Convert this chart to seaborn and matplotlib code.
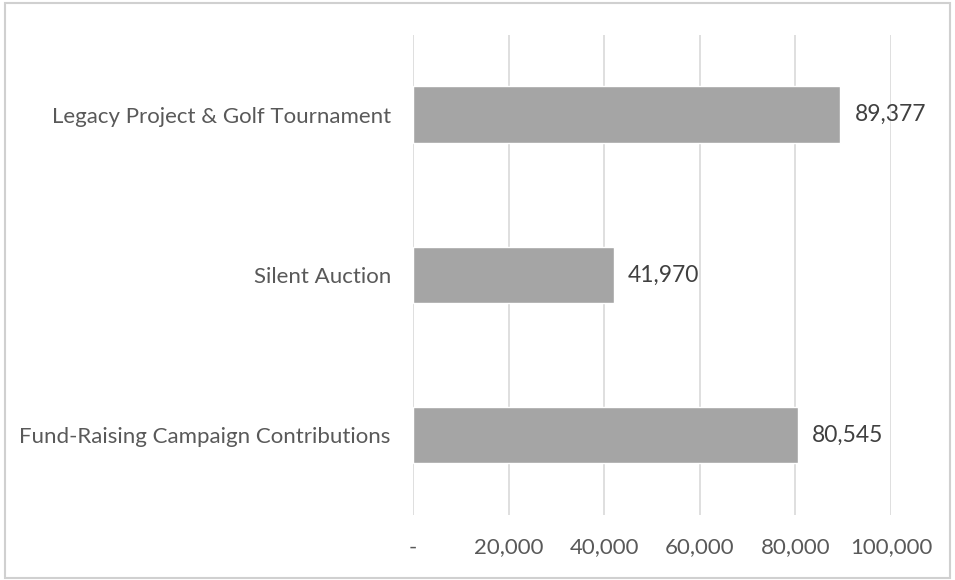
import matplotlib
matplotlib.use('Agg')
import matplotlib.pyplot as plt
import seaborn as sns
import pandas as pd
from matplotlib.patches import Rectangle

categories = ['Legacy Project & Golf Tournament', 'Silent Auction', 'Fund-Raising Campaign Contributions']
values = [89377, 41970, 80545]
xticks = [0, 20000, 40000, 60000, 80000, 100000]
xtick_labels = ['-', '20,000', '40,000', '60,000', '80,000', '100,000']

sns.set_style('white')
plt.rcParams['font.family'] = ['Lato', 'DejaVu Sans']

df = pd.DataFrame({'category': categories, 'value': values})

fig = plt.figure(figsize=(9.55, 5.8), dpi=100)
ax = fig.add_axes([0.4325, 0.112, 0.5005, 0.828])

sns.barplot(data=df, x='value', y='category', color='#a5a5a5', width=0.355,
            saturation=1, ax=ax, zorder=3)

ax.set_xlim(0, 100000)
ax.set_ylim(2.5, -0.5)
ax.set_xticks(xticks)
ax.set_xticklabels(xtick_labels)
ax.grid(axis='x', color='#d9d9d9', linewidth=1.2, zorder=0)
ax.grid(axis='y', visible=False)
for s in ax.spines.values():
    s.set_visible(False)
ax.tick_params(axis='both', length=0, colors='#595959', labelsize=16)
ax.tick_params(axis='x', pad=16)
ax.tick_params(axis='y', pad=16)
ax.set_xlabel('')
ax.set_ylabel('')

for i, v in enumerate(values):
    ax.text(v + 3000, i, f'{v:,}', va='center', ha='left', fontsize=16.5, color='#404040')

fig.patches.append(Rectangle((0.005, 0.004), 0.99, 0.99, transform=fig.transFigure,
                             fill=False, edgecolor='#d0d0d0', linewidth=1.5))

fig.savefig('out.png', dpi=100)
